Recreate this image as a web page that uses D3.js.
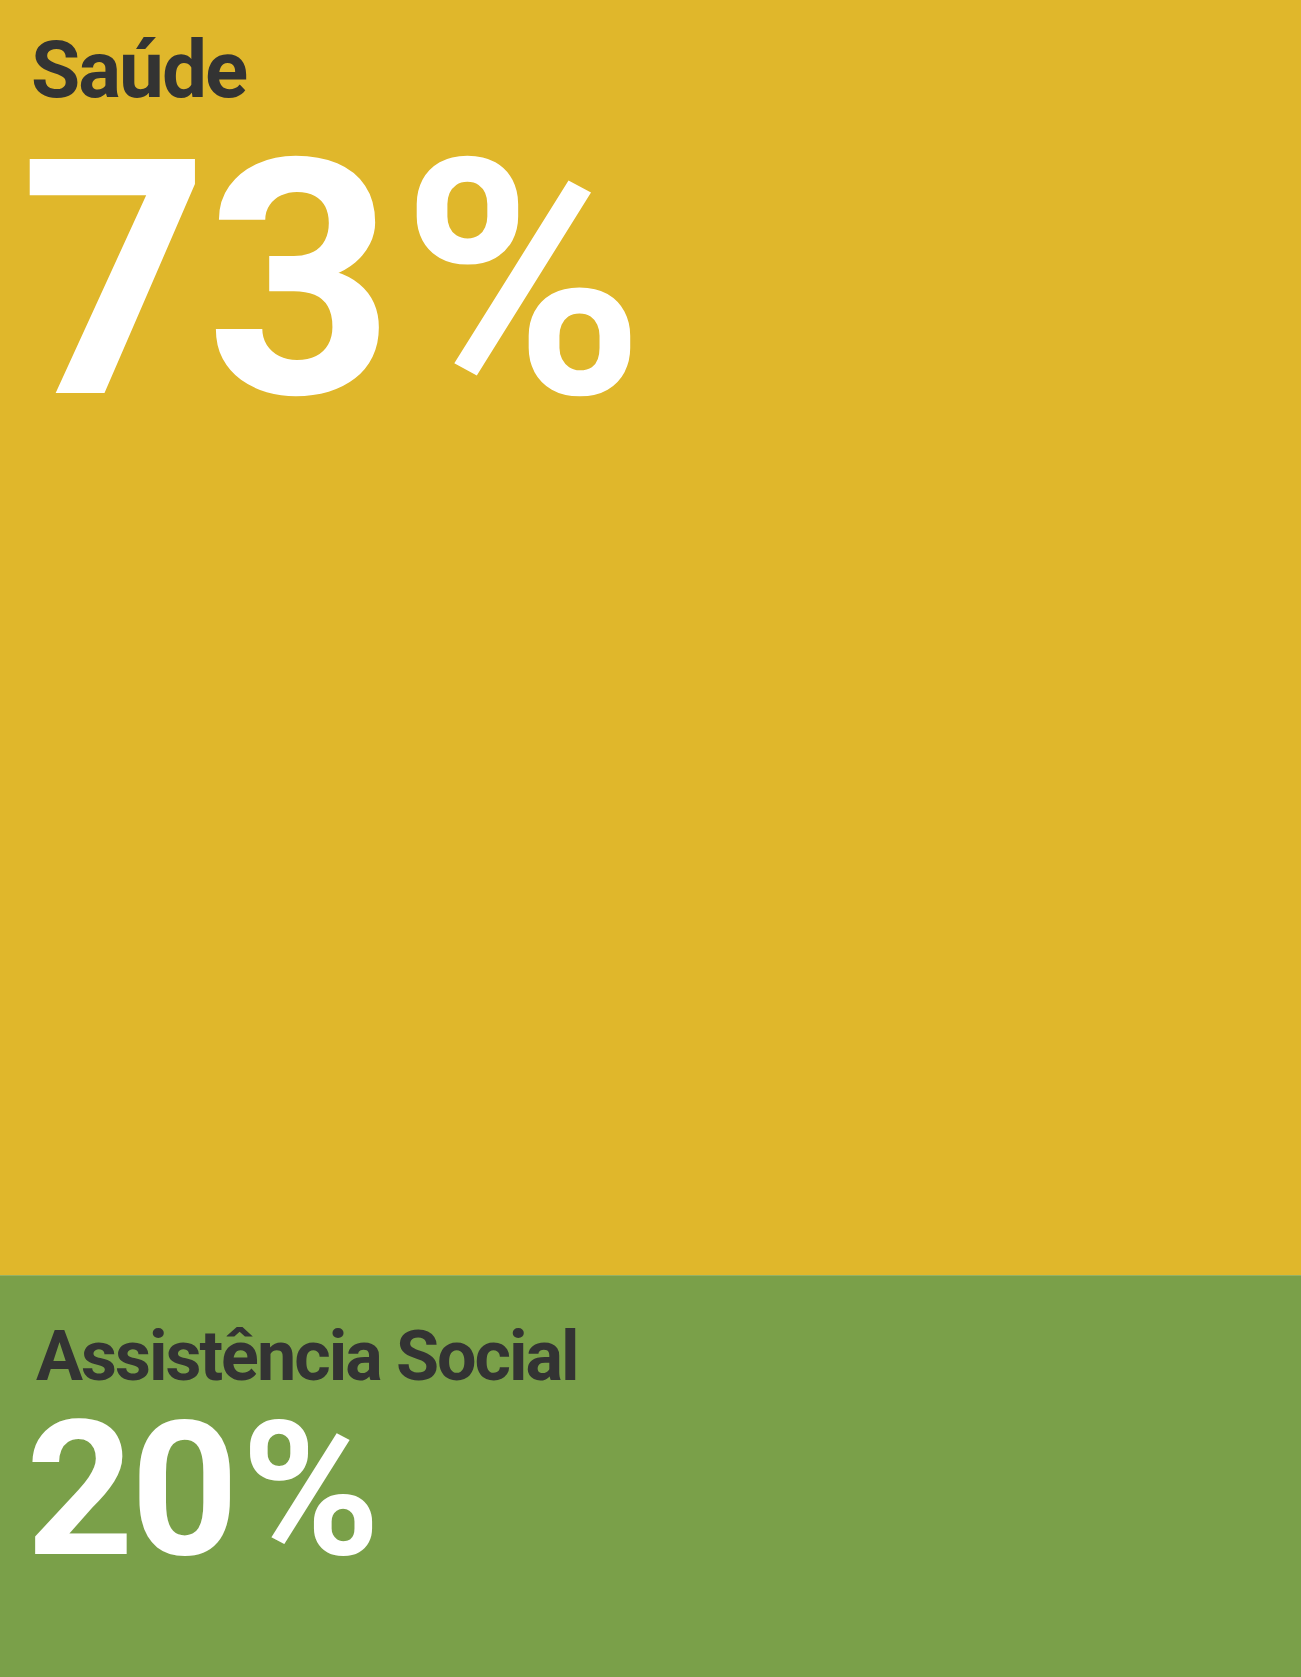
<!DOCTYPE html>
<meta http-equiv="content-type" content="text/html; charset=utf-8">

<style>
body {
  margin: 0;
  overflow: hidden;
}
.label {
  font-family: Roboto, sans-serif;
  font-weight: bold;
  fill: #333333;
}
.value {
  font-family: Roboto, sans-serif;
  font-weight: bold;
  fill: #ffffff;
}
</style>

<body>
<div id="chart"></div>

<script src="https://d3js.org/d3.v7.min.js"></script>
<script>
var width = 1301, height = 1677;

var categories = ["Saúde", "Assistência Social"];
var shares = [73, 20];
var colors = ["#e0b72b", "#7aa049"];

var svg = d3.select("#chart").append("svg")
    .attr("width", width)
    .attr("height", height);

// cumulative start of each block
var starts = shares.map(function(d, i) { return d3.sum(shares.slice(0, i)); });

// the blocks are a crop of a taller treemap, so the scale runs past the bottom
var y = d3.scaleLinear()
    .domain([0, 96])
    .range([0, height]);

// text sizes follow the share of each block
var valueSize = d3.scaleLinear().domain([20, 73]).range([188, 329]);
var labelSize = d3.scaleLinear().domain([20, 73]).range([70, 80]);
var labelBase = d3.scaleLinear().domain([20, 73]).range([105, 97]);
var valueBase = d3.scaleLinear().domain([20, 73]).range([279, 393]);

var g = svg.selectAll("g.block")
  .data(shares)
  .enter().append("g")
    .attr("class", "block")
    .attr("transform", function(d, i) { return "translate(0," + y(starts[i]) + ")"; });

g.append("rect")
    .attr("x", 0)
    .attr("y", 0)
    .attr("width", width)
    .attr("height", function(d, i) {
      return i == shares.length - 1 ? height - y(starts[i]) : y(d);
    })
    .attr("fill", function(d, i) { return colors[i]; });

g.append("text")
    .attr("class", "label")
    .attr("x", function(d, i) { return i ? 36 : 31; })
    .attr("y", function(d) { return labelBase(d); })
    .style("font-size", function(d) { return labelSize(d) + "px"; })
    .style("letter-spacing", "-2px")
    .text(function(d, i) { return categories[i]; });

var values = g.append("text")
    .attr("class", "value")
    .attr("x", function(d, i) { return i ? 26 : 20; })
    .attr("y", function(d) { return valueBase(d); })
    .style("font-size", function(d) { return valueSize(d) + "px"; })
    .style("letter-spacing", "-3px");

values.append("tspan")
    .text(function(d) { return d; });

values.append("tspan")
    .attr("dx", function(d) { return valueSize(d) * 0.03; })
    .text("%");
</script>
</body>
</html>
